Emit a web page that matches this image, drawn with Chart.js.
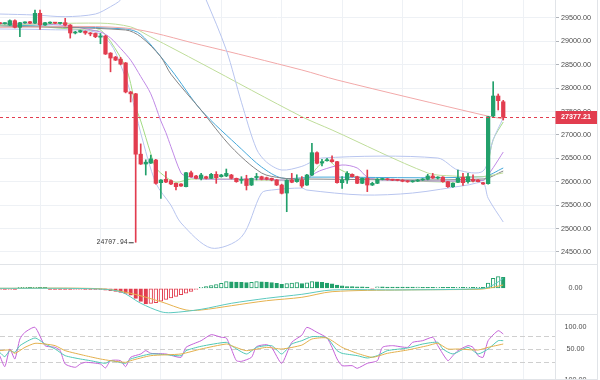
<!DOCTYPE html>
<html><head><meta charset="utf-8">
<script src="https://cdn.jsdelivr.net/npm/chart.js@4.4.0/dist/chart.umd.min.js"></script>
<style>
html,body{margin:0;padding:0;background:#fff;width:600px;height:380px;overflow:hidden}
canvas{position:absolute;left:0}
</style></head><body>
<canvas id="c1" width="600" height="265" style="top:0"></canvas>
<canvas id="c2" width="600" height="50" style="top:265px"></canvas>
<canvas id="c3" width="600" height="65" style="top:315px"></canvas>
<script>
// ---------------- DATA ----------------
const open  = [29390,29380,29350,29443,29301,29395,29420,29390,29600,29350,29390,29400,29385,29400,29350,29180,29200,29215,29180,29170,29090,29115,28750,28665,28620,28540,27920,27880,26590,26380,26400,26465,25981,26053,26024,25967,25953,25896,26194,26124,26074,26109,26074,26160,26109,26124,26145,26074,26030,26060,25931,26090,26109,26088,26074,26038,25931,25760,26038,26003,26038,25931,26145,26622,26400,26450,26470,26430,25981,26038,26159,26109,25968,26074,25931,25968,26050,26060,26045,26040,26035,26020,26000,26015,26040,26053,26124,26080,26100,26003,25896,25990,26095,26003,26053,26038,25981,25960,27406,27833,27710];
const high  = [29410,29400,29460,29460,29410,29420,29430,29671,29671,29410,29420,29405,29400,29493,29360,29215,29240,29225,29190,29180,29170,29130,28760,28680,28660,28550,27930,27890,26810,26470,26570,26480,26050,26216,26040,25975,25960,26200,26230,26140,26180,26120,26180,26216,26160,26273,26160,26080,26109,26140,26080,26180,26120,26100,26080,26050,25950,26045,26180,26150,26109,26160,26822,26640,26480,26500,26555,26440,26109,26216,26170,26120,26080,26252,25990,26070,26075,26070,26055,26050,26045,26030,26025,26050,26070,26160,26180,26110,26110,26010,25980,26252,26180,26180,26150,26045,25990,27400,28139,27876,27740];
const low   = [29370,29370,29340,29290,29100,29385,29380,29380,29258,29340,29380,29380,29370,29330,29070,29160,29190,29150,29120,29080,28950,28720,28350,28590,28500,27900,27705,24707.94,26370,26145,26390,25950,25647,25980,25940,25825,25900,25890,26100,26060,26038,26060,26070,25967,26100,26110,26060,25990,25967,25825,25920,26040,26040,26040,26020,25920,25740,25361,25980,25990,25880,25920,26130,26380,26340,26440,26420,25970,25860,25967,26100,25960,25960,25790,25920,25960,26040,26035,26025,26020,26000,25990,25990,26005,26030,26040,26070,26060,25990,25880,25880,25980,25925,25970,26000,25995,25945,25950,27390,27534,27320];
const close = [29380,29390,29443,29301,29400,29405,29390,29600,29350,29400,29405,29390,29395,29350,29180,29200,29230,29180,29160,29100,29115,28730,28645,28600,28515,27920,27880,26590,26380,26420,26490,25967,26038,25995,25953,25896,25910,26194,26109,26074,26145,26074,26160,26088,26145,26180,26074,26003,26045,25920,26074,26115,26053,26053,26038,25931,25754,26030,25990,26053,25910,26145,26622,26395,26430,26470,26430,25981,26038,26180,26109,25968,26074,25931,25968,26053,26060,26045,26035,26030,26010,26000,26015,26040,26055,26124,26080,26100,26003,25896,25967,26074,25981,26109,26017,26003,25953,27391,27833,27733,27377.21];
const lastPrice = 27377.21;

// overlay lines on the price panel: [candle index, price]
const bollUpper = [[0,29585],[7,29564],[13,29528],[19,29585],[22,29742],[24,29885],[28,30400],[33,30600],[37,30550],[39,30350],[41,29885],[45,28816],[48,27700],[51,26700],[53,26420],[56,26252],[60,26330],[64,26508],[87,26508],[91,26252],[96,26230],[98,26900],[100,27363]];
const bollLower = [[0,29265],[10,29250],[19,29200],[22,28950],[24,28500],[26,27900],[28,27042],[31,25974],[34,25500],[36,25120],[42,24585],[48,24820],[52,25760],[54,25824],[60,25867],[61,25824],[72,25718],[82,25760],[93,25932],[96,25974],[97,25650],[100,25141]];
const maSlow   = [[0,29300],[25,29286],[40,28923],[60,28389],[67,28175],[96,27427],[100,27342]];
const maLime   = [[0,29350],[20,29390],[26,29310],[30,29095],[35,28816],[40,28532],[60,27391],[66,27107],[85,26188],[90,26124],[96,26110],[100,26190]];
const maGray   = [[0,29330],[25,29244],[28,29100],[32,28667],[34,28300],[40,27530],[46,26743],[52,26188],[56,26081],[60,26060],[96,26060],[100,26230]];
const maBlue   = [[0,29350],[25,29265],[28,29150],[34,28400],[40,27530],[48,26700],[52,26316],[56,26081],[62,26100],[96,26110],[100,26295]];
const maPurple = [[0,29380],[12,29350],[20,29201],[22,29073],[24,28850],[26,28600],[28,28250],[30,27880],[32,27300],[33,27050],[34,26750],[36,26188],[37,26124],[40,26060],[50,26060],[60,26040],[62,26150],[64,26252],[68,26359],[71,26295],[73,26102],[76,26040],[96,26030],[97,26150],[98,26300],[100,26636]];
const maFast   = [[0,29380],[19,29230],[20,29244],[22,29000],[25,28453],[26,28100],[27,27600],[28,27300],[30,26600],[31,26300],[33,26100],[35,25990],[38,26060],[61,26060],[63,26300],[65,26466],[67,26300],[69,26190],[72,26080],[96,26030],[97,26400],[98,26900],[100,27278]];

// MACD panel
const macdHist = [-10,-12,-8,-10,5,10,8,15,12,10,-5,-8,-10,-12,-15,-15,-14,-16,-20,-25,-30,-45,-60,-80,-100,-130,-170,-250,-330,-390,-380,-360,-320,-280,-240,-200,-160,-120,-80,-30,15,40,65,95,125,165,160,155,150,140,150,165,160,155,145,125,100,115,130,140,120,135,165,160,150,130,110,80,60,45,40,38,35,30,-10,35,34,33,32,31,30,29,28,28,27,26,25,25,24,23,22,22,21,21,20,20,19,130,250,290,275];
const macdDif = [[0,0],[18,-10],[24,-85],[28,-375],[32,-585],[34,-610],[40,-525],[46,-375],[53,-250],[60,-150],[66,-42],[80,-40],[96,-5],[98,83],[100,250]];
const macdDea = [[0,0],[20,-10],[26,-125],[32,-335],[37,-542],[40,-542],[46,-435],[53,-310],[60,-225],[66,-85],[80,-42],[95,-25],[97,0],[100,83]];

// RSI panel
const rsi6  = [[0,34.6],[1,9.2],[2,50],[3,26.9],[4,73.1],[5,88.5],[7,100],[9,57.7],[11,53.8],[12,46.2],[13,15.4],[15,7.7],[16,15.4],[17,19.2],[20,15.4],[21,6.2],[22,23.1],[24,23.1],[25,9.2],[26,30.8],[28,38.5],[29,46.2],[30,40],[33,38.5],[36,30.8],[37,53.8],[40,69.2],[42,83.1],[44,77],[45,75.4],[46,50],[47,23.1],[48,21.5],[50,30.8],[51,55.4],[53,60],[54,53.8],[56,16.9],[58,65.4],[60,82],[61,100],[63,88.5],[65,75.4],[66,53.8],[67,26.9],[68,11.5],[70,11.5],[71,5.4],[73,16.9],[75,23.1],[76,53.8],[78,57.7],[81,53.8],[82,65.4],[84,69.2],[86,77],[87,57.7],[89,23.1],[90,34.6],[91,46.2],[93,57.7],[94,53.8],[95,34.6],[96,30.8],[97,69.2],[99,92.3],[100,84.6]];
const rsi12 = [[0,42.3],[1,32.3],[2,46.2],[3,42.3],[4,57.7],[7,75.4],[9,61.5],[11,50],[13,34.6],[16,26.9],[18,23.1],[21,16.9],[22,23.1],[25,16.9],[26,26.9],[30,38.5],[33,36.9],[36,34.6],[37,46.2],[40,56.2],[45,65.4],[46,57.7],[49,38.5],[51,53.8],[54,57.7],[56,38.5],[58,61.5],[60,69.2],[62,78.5],[65,75.4],[67,46.2],[68,40],[71,34.6],[73,29.2],[75,34.6],[77,46.2],[81,52.3],[84,61.5],[87,65.4],[88,50],[90,38.5],[93,53.8],[95,38.5],[97,50],[99,69.2],[100,69.2]];
const rsi24 = [[0,46.2],[2,47.7],[3,40],[5,53.8],[7,63.1],[9,61.5],[11,57.7],[13,46.2],[17,34.6],[20,26.9],[22,23.1],[25,19.2],[26,23.1],[30,34.6],[36,38.5],[40,50],[45,61.5],[46,57.7],[49,46.2],[53,53.8],[56,50],[60,59],[62,73.1],[65,75.4],[68,53.8],[71,40],[74,30.8],[77,40],[81,47.7],[85,57.7],[87,63.1],[89,50],[91,50],[95,47.7],[97,53.8],[100,61.5]];
const rsiLevels = [80, 50, 20];

// tick labels
const priceTicks = [24500,25000,25500,26000,26500,27000,27500,28000,28500,29000,29500];
const macdTicks = [0];
const rsiTicks = [50, 100];
const lowerPanelLabel = '100.00';
const gridIdx = [8,20,32,44,56,68,80,92,104];

// ---------------- STYLE / RENDER ----------------
const RED = '#e23d4f', GREEN = '#22a06b', GRID = '#eef1f5', EDGE = '#e1e4e8';
const FONT = {family: "'Liberation Sans', Arial, sans-serif", size: 7.2};
const X_MIN = 0.05, X_MAX = 110.28;
Chart.defaults.animation = false;
Chart.defaults.events = [];

const xy = p => p.map(([x, y]) => ({x, y}));
const line = (d, c, w) => ({type:'line', data: xy(d), borderColor: c, borderWidth: w || 1, pointRadius: 0, tension: 0.3, order: 5, fill:false});

function xAxis() {
  return {type:'linear', min:X_MIN, max:X_MAX, offset:false,
    grid:{color:GRID, drawTicks:false, offset:false}, border:{display:false}, ticks:{display:false},
    afterBuildTicks: s => { s.ticks = gridIdx.map(v => ({value:v})); },
    afterFit: s => { s.height = 0; }};
}
function yAxis(min, max, ticks, pad, showGrid, tickLen) {
  return {type:'linear', position:'right', min, max,
    afterBuildTicks: s => { s.ticks = ticks.map(v => ({value:v})); },
    ticks:{callback: v => Number(v).toFixed(2), font:FONT, color:'#4d4d4d', padding:pad, crossAlign:'center'},
    grid:{display:true, drawOnChartArea:showGrid, color:GRID, drawTicks: tickLen > 0, tickLength: tickLen || 0, tickColor:'#b0b4ba'},
    border:{display:true, color:EDGE},
    afterFit: s => { s.width = 42; s.paddingTop = 0; s.paddingBottom = 0; }};
}
const frame = {id:'frame', afterDraw(chart) {
  const c = chart.ctx, h = chart.height;
  c.save(); c.strokeStyle = EDGE; c.lineWidth = 1;
  c.beginPath(); c.moveTo(597.5, 0); c.lineTo(597.5, h);
  c.moveTo(0, h - 0.5); c.lineTo(598, h - 0.5); c.stroke(); c.restore();
}};
const base = {responsive:false, maintainAspectRatio:false, layout:{padding:{left:0, right:3, top:0, bottom:0}},
  plugins:{legend:{display:false}, tooltip:{enabled:false}}};

const candleColor = i => close[i] < open[i] ? RED : GREEN;
const idxs = open.map((_, i) => i);

const mainDecor = {id:'mainDecor',
  afterDatasetsDraw(chart) {
    const c = chart.ctx, y = chart.scales.y.getPixelForValue(lastPrice), a = chart.chartArea;
    c.save(); c.strokeStyle = RED; c.lineWidth = 1; c.setLineDash([3, 3]);
    c.beginPath(); c.moveTo(a.left, Math.round(y) + 0.5); c.lineTo(a.right, Math.round(y) + 0.5); c.stroke(); c.restore();
    let mi = 0; low.forEach((v, i) => { if (v < low[mi]) mi = i; });
    const px = chart.scales.x.getPixelForValue(mi), py = chart.scales.y.getPixelForValue(low[mi]);
    c.save(); c.fillStyle = '#333'; c.strokeStyle = '#333'; c.font = "6.5px 'Liberation Mono', monospace";
    c.textAlign = 'right'; c.textBaseline = 'middle'; c.fillText(low[mi].toFixed(2), px - 8, py);
    c.beginPath(); c.moveTo(px - 7, py + 0.5); c.lineTo(px - 2, py + 0.5); c.stroke(); c.restore();
  },
  afterDraw(chart) {
    const c = chart.ctx, y = chart.scales.y.getPixelForValue(lastPrice), a = chart.chartArea;
    c.save(); c.fillStyle = RED; c.fillRect(a.right + 0.5, Math.round(y) - 6, 42, 13);
    c.fillStyle = '#fff'; c.font = "bold 7.2px 'Liberation Sans', Arial, sans-serif";
    c.textAlign = 'center'; c.textBaseline = 'middle'; c.fillText(lastPrice.toFixed(2), a.right + 21, Math.round(y) + 0.5);
    c.restore();
  }};

new Chart(document.getElementById('c1'), {
  type:'bar',
  data:{datasets:[
    line(bollUpper, '#b8c5ef'), line(bollLower, '#b8c5ef'),
    line(maSlow, '#f2a9a9'), line(maLime, '#bfdd9a'), line(maGray, '#858585'), line(maBlue, '#45a8da'),
    line(maPurple, '#c08ae6'), line(maFast, '#a2db84'),
    {type:'bar', data: idxs.map(i => ({x:i, y:[low[i], high[i]]})), backgroundColor: ctx => candleColor(ctx.dataIndex), barThickness:1, grouped:false, order:2},
    {type:'bar', data: idxs.map(i => ({x:i, y:[open[i], close[i]]})), backgroundColor: ctx => candleColor(ctx.dataIndex), barThickness:3.6, grouped:false, minBarLength:1, order:1}
  ]},
  options:{...base, scales:{x:xAxis(), y:yAxis(24222.2, 29884.6, priceTicks, 2, true, 4)}},
  plugins:[mainDecor, frame]
});

new Chart(document.getElementById('c2'), {
  type:'bar',
  data:{datasets:[
    {type:'bar', data: idxs.map(i => ({x:i, y:macdHist[i]})),
      backgroundColor: ctx => { const i = ctx.dataIndex, v = macdHist[i], p = i > 0 ? macdHist[i-1] : v; return v < p ? (v >= 0 ? GREEN : RED) : '#ffffff'; },
      borderColor: ctx => macdHist[ctx.dataIndex] >= 0 ? GREEN : RED, borderWidth: 1, borderSkipped:false,
      barThickness:3.6, grouped:false, minBarLength:1, order:2},
    {...line(macdDif, '#5cc9bf'), order:1}, {...line(macdDea, '#e6b24f'), order:1}
  ]},
  options:{...base, scales:{x:xAxis(), y:yAxis(-667, 582, macdTicks, 13.5, false, 0)}},
  plugins:[frame]
});

const rsiDecor = {id:'rsiDecor',
  beforeDatasetsDraw(chart) {
    const c = chart.ctx, a = chart.chartArea;
    c.save(); c.strokeStyle = '#cfcfcf'; c.lineWidth = 1; c.setLineDash([5, 3]);
    rsiLevels.forEach(v => { const y = Math.round(chart.scales.y.getPixelForValue(v)) + 0.5;
      c.beginPath(); c.moveTo(a.left, y); c.lineTo(a.right, y); c.stroke(); });
    c.restore();
  },
  afterDraw(chart) {
    const c = chart.ctx;
    c.save(); c.fillStyle = '#4d4d4d'; c.font = "7.2px 'Liberation Sans', Arial, sans-serif";
    c.textAlign = 'center'; c.textBaseline = 'middle'; c.fillText(lowerPanelLabel, 575.5, chart.height + 0.5); c.restore();
  }};
new Chart(document.getElementById('c3'), {
  type:'line',
  data:{datasets:[
    {...line(rsi24, '#e3b04d'), tension:0.2}, {...line(rsi12, '#4fc8b4'), tension:0.2}, {...line(rsi6, '#c462d8'), tension:0.2}
  ]},
  options:{...base, scales:{x:xAxis(), y:yAxis(-21.6, 128.5, rsiTicks, 9.5, false, 0)}},
  plugins:[rsiDecor, frame]
});
</script>
</body></html>
